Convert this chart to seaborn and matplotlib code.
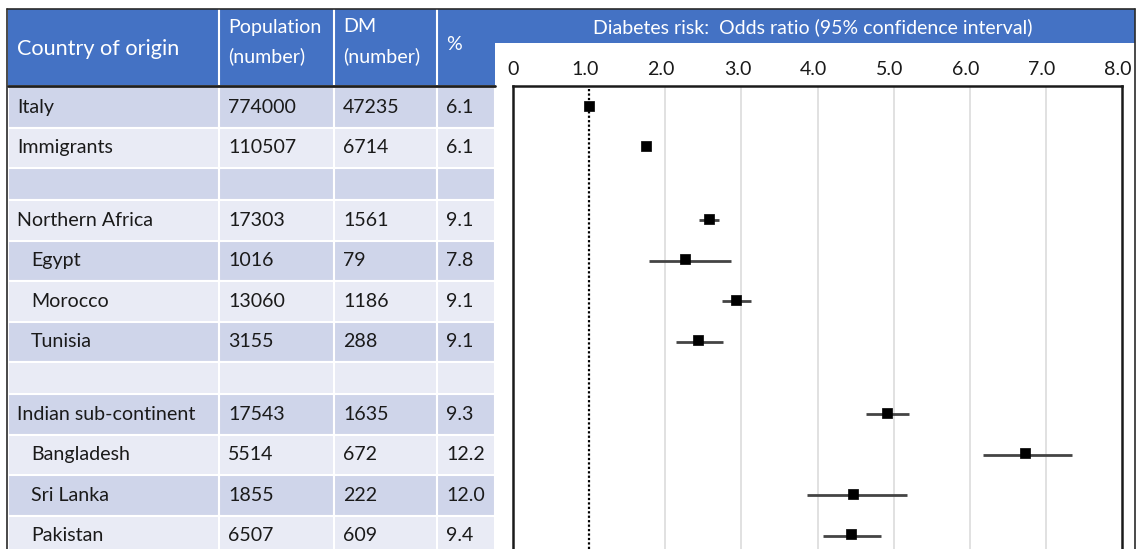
import numpy as np
import matplotlib
matplotlib.use("Agg")
import matplotlib.pyplot as plt
import matplotlib.transforms as mtransforms
from matplotlib.patches import Rectangle
import seaborn as sns

# ---------------- data ----------------
countries = ["Italy", "Immigrants", "", "Northern Africa", "Egypt", "Morocco", "Tunisia",
             "", "Indian sub-continent", "Bangladesh", "Sri Lanka", "Pakistan"]
indent = [0, 0, 0, 0, 1, 1, 1, 0, 0, 1, 1, 1]
population = ["774000", "110507", "", "17303", "1016", "13060", "3155",
              "", "17543", "5514", "1855", "6507"]
dm_number = ["47235", "6714", "", "1561", "79", "1186", "288",
             "", "1635", "672", "222", "609"]
percent = ["6.1", "6.1", "", "9.1", "7.8", "9.1", "9.1",
           "", "9.3", "12.2", "12.0", "9.4"]
odds_ratio = [1.00, 1.75, np.nan, 2.57, 2.26, 2.93, 2.43, np.nan, 4.91, 6.72, 4.47, 4.44]
ci_low = [np.nan, 1.71, np.nan, 2.44, 1.78, 2.75, 2.14, np.nan, 4.64, 6.17, 3.86, 4.07]
ci_high = [np.nan, 1.79, np.nan, 2.70, 2.86, 3.12, 2.76, np.nan, 5.20, 7.34, 5.18, 4.84]
x_ticks = [0, 1, 2, 3, 4, 5, 6, 7, 8]
x_tick_labels = ["0", "1.0", "2.0", "3.0", "4.0", "5.0", "6.0", "7.0", "8.0"]
header_cols = ["Country of origin", "Population\n(number)", "DM\n(number)", "%"]
plot_title = "Diabetes risk:  Odds ratio (95% confidence interval)"

# ---------------- style ----------------
sns.set_theme(style="white")
plt.rcParams["font.family"] = ["Lato", "DejaVu Sans"]

W, H = 1137, 549
fig = plt.figure(figsize=(W / 100, H / 100), dpi=100)
fig.patch.set_facecolor("white")

BLUE = "#4472C4"
DARK = "#CFD5EA"
LIGHT = "#E9EBF5"
TXT = "#1a1a1a"
FS = 14.1

bg = fig.add_axes([0, 0, 1, 1])
bg.set_xlim(0, W)
bg.set_ylim(H, 0)
bg.axis("off")

# row geometry (pixels)
row_top = 87.0
heights = [40.5 if c != "" else 32.0 for c in countries]
tops = []
y = row_top
for h in heights:
    tops.append(y)
    y += h
centers = [t + h / 2 for t, h in zip(tops, heights)]

col_x = [8, 218.5, 333.5, 437, 495]

# header
bg.add_patch(Rectangle((8, 9), 495 - 8, 85 - 9, facecolor=BLUE, edgecolor="none"))
bg.add_patch(Rectangle((495, 9), 1135 - 495, 43 - 9, facecolor=BLUE, edgecolor="none"))
for cx in col_x[1:4]:
    bg.plot([cx, cx], [9, 85], color="white", lw=1.5, zorder=3)
bg.plot([8, 495], [85.5, 85.5], color="#1f1f1f", lw=2, zorder=4)
# outer frame
bg.plot([7, 1135], [9, 9], color="#2a2a2a", lw=1.2, zorder=5)
bg.plot([7.3, 7.3], [9, H], color="#2a2a2a", lw=1.2, zorder=5)
bg.plot([1134.5, 1134.5], [9, H], color="#2a2a2a", lw=1.2, zorder=5)

bg.text(17, 49, header_cols[0], color="white", fontsize=15.6, va="center", ha="left")
for j, lbl in enumerate(header_cols[1:3], start=1):
    l1, l2 = lbl.split("\n")
    bg.text(col_x[j] + 9.5, 27, l1, color="white", fontsize=FS, va="center", ha="left")
    bg.text(col_x[j] + 9.5, 56, l2, color="white", fontsize=FS, va="center", ha="left")
bg.text(col_x[3] + 9, 45, header_cols[3], color="white", fontsize=FS, va="center", ha="left")
bg.text(813, 27, plot_title, color="white", fontsize=14.0, va="center", ha="center")

# table body
for i, (t, h) in enumerate(zip(tops, heights)):
    fc = DARK if i % 2 == 0 else LIGHT
    for j in range(4):
        bg.add_patch(Rectangle((col_x[j], t), col_x[j + 1] - col_x[j], h,
                               facecolor=fc, edgecolor="white", lw=1.5))
    cy = centers[i]
    bg.text(17 + 14 * indent[i], cy, countries[i], color=TXT, fontsize=FS, va="center", ha="left")
    bg.text(col_x[1] + 9.5, cy, population[i], color=TXT, fontsize=FS, va="center", ha="left")
    bg.text(col_x[2] + 9.5, cy, dm_number[i], color=TXT, fontsize=FS, va="center", ha="left")
    bg.text(col_x[3] + 9, cy, percent[i], color=TXT, fontsize=FS, va="center", ha="left")

# ---------------- forest plot ----------------
px_left, px_right, px_top = 513, 1122, 86
ax = fig.add_axes([px_left / W, 0, (px_right - px_left) / W, (H - px_top) / H])
ax.set_facecolor("white")
ax.set_xlim(0, 8)
ax.set_ylim(H, px_top)

for gx in x_ticks:
    if gx not in (0, 1, 8):
        ax.axvline(gx, color="#DCDCDC", lw=1.2, zorder=1)
ax.axvline(1.0, color="black", lw=1.6, ls=(0, (1, 1)), zorder=2)

ors = np.array(odds_ratio, dtype=float)
lo = np.array(ci_low, dtype=float)
hi = np.array(ci_high, dtype=float)
yc = np.array(centers)
ok = ~np.isnan(lo)
ax.hlines(yc[ok], lo[ok], hi[ok], color="#444444", lw=2, zorder=3)
m = ~np.isnan(ors)
sns.scatterplot(x=ors[m], y=yc[m] - 1.5, marker="s", color="black", s=58,
                edgecolor="black", linewidth=0.5, ax=ax, zorder=4, legend=False)

ax.xaxis.tick_top()
ax.set_xticks(x_ticks)
ax.set_xticklabels(x_tick_labels, fontsize=FS, color=TXT)
ax.tick_params(axis="x", length=0, pad=5.5)
shift = mtransforms.ScaledTranslation(-4 / 100, 0, fig.dpi_scale_trans)
for lab in ax.get_xticklabels():
    if lab.get_text() != "0":
        lab.set_transform(lab.get_transform() + shift)
ax.set_yticks([])
ax.set_xlabel("")
ax.set_ylabel("")
for side in ("left", "top", "right"):
    ax.spines[side].set_visible(True)
    ax.spines[side].set_color("#1a1a1a")
    ax.spines[side].set_linewidth(1.8)
ax.spines["bottom"].set_visible(False)

fig.savefig("out.png", dpi=100, facecolor="white")
